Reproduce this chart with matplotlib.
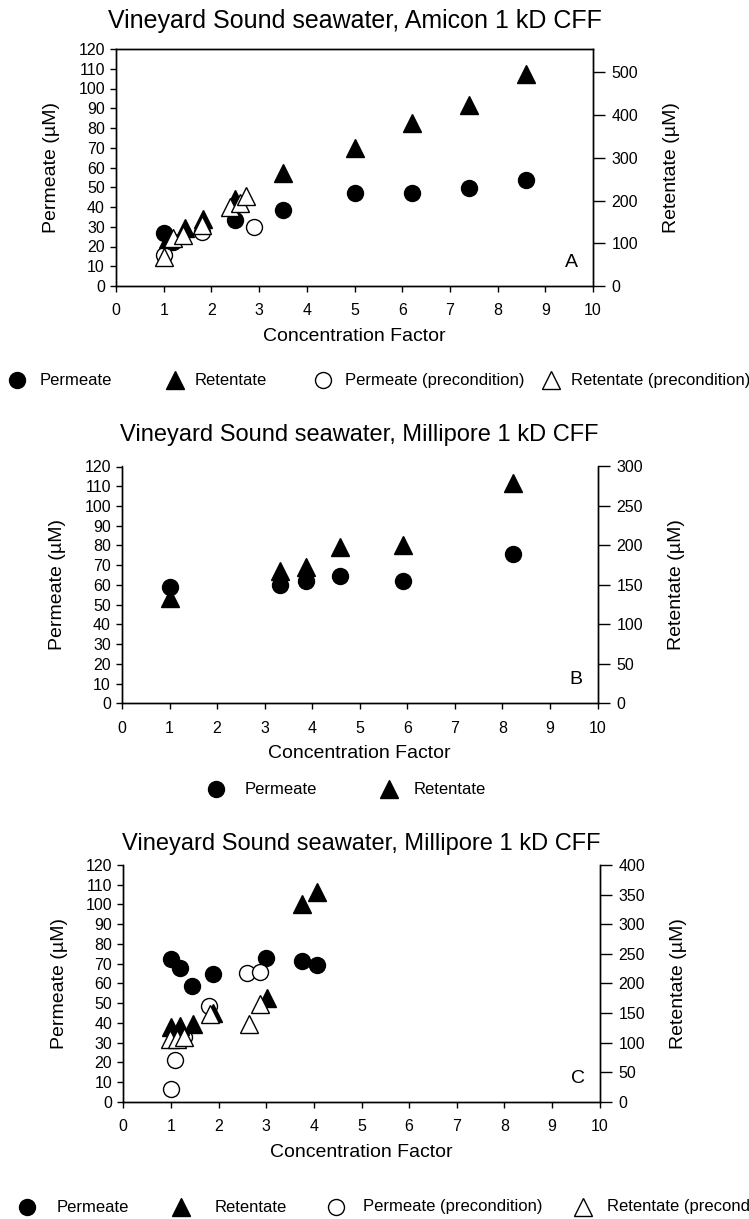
import numpy as np
import matplotlib
matplotlib.use("Agg")
import matplotlib.pyplot as plt
from matplotlib.lines import Line2D

plt.rcParams['font.family'] = ['Liberation Sans', 'DejaVu Sans']

# ---- Panel A: Amicon 1 kD CFF ----
a_perm_x = [1.0, 1.2, 2.5, 3.5, 5.0, 6.2, 7.4, 8.6]
a_perm_y = [26.7, 22.5, 33.5, 38.5, 47.0, 47.3, 49.5, 53.7]
a_ret_x = [1.1, 1.45, 1.82, 2.5, 3.5, 5.0, 6.2, 7.4, 8.6]
a_ret_y = [111, 135, 156, 203, 264, 323, 381, 423, 496]
a_perm_pre_x = [1.0, 1.15, 1.8, 2.89]
a_perm_pre_y = [15.7, 23.0, 27.5, 30.1]
a_ret_pre_x = [1.0, 1.2, 1.4, 1.8, 2.39, 2.6, 2.72]
a_ret_pre_y = [69, 112, 119, 143, 186, 194, 211]

# ---- Panel B: Millipore 1 kD CFF ----
b_perm_x = [1.0, 3.33, 3.87, 4.58, 5.92, 8.23]
b_perm_y = [58.7, 60.0, 62.1, 64.6, 62.1, 75.6]
b_ret_x = [1.0, 3.33, 3.87, 4.58, 5.92, 8.23]
b_ret_y = [134, 168, 173, 198, 201, 279]

# ---- Panel C: Millipore 1 kD CFF ----
c_perm_x = [1.0, 1.19, 1.45, 1.89, 3.0, 3.76, 4.07]
c_perm_y = [72.3, 67.7, 58.7, 64.7, 72.8, 71.1, 69.4]
c_ret_x = [1.0, 1.19, 1.46, 1.89, 3.01, 3.76, 4.07]
c_ret_y = [127, 128, 131, 150, 175, 334, 354]
c_perm_pre_x = [1.0, 1.09, 1.27, 1.8, 2.6, 2.87]
c_perm_pre_y = [6.3, 21.2, 32.7, 48.7, 65.2, 65.8]
c_ret_pre_x = [0.98, 1.12, 1.27, 1.82, 2.64, 2.87]
c_ret_pre_y = [106, 106, 109, 148, 131, 165]

title_a = "Vineyard Sound seawater, Amicon 1 kD CFF"
title_bc = "Vineyard Sound seawater, Millipore 1 kD CFF"

W, H = 749, 1219
fig = plt.figure(figsize=(W / 100, H / 100), dpi=100)


def px_axes(x0, x1, y0, y1):
    return fig.add_axes([x0 / W, 1 - y1 / H, (x1 - x0) / W, (y1 - y0) / H])


CS = 11.5   # circle marker size
TS = 12.5   # triangle marker size


def panel(ax, right_max, right_step, letter, title, series,
          title_size=17, title_pad=14, top=True):
    ax2 = ax.twinx()
    for (xs, ys, marker, filled, side) in series:
        tgt = ax if side == 'L' else ax2
        ms = CS if marker == 'o' else TS
        tgt.plot(xs, ys, linestyle='none', marker=marker, markersize=ms,
                 markerfacecolor='black' if filled else 'white',
                 markeredgecolor='black', markeredgewidth=1.0, zorder=3,
                 clip_on=False)
    ax.set_xlim(0, 10)
    ax.set_ylim(0, 120)
    ax2.set_ylim(0, right_max)
    ax.set_xticks(np.arange(0, 11, 1))
    ax.set_yticks(np.arange(0, 121, 10))
    ax2.set_yticks(np.arange(0, right_max + 1, right_step))
    for a in (ax, ax2):
        a.tick_params(direction='out', length=4.5, width=1, labelsize=11.5,
                      pad=3.5, colors='black')
        for s in a.spines.values():
            s.set_linewidth(1.0)
        a.spines['top'].set_visible(top)
    ax2.tick_params(axis='y', length=8.5, pad=5)
    ax.tick_params(axis='x', pad=8)
    ax.set_xlabel("Concentration Factor", fontsize=14, labelpad=7)
    ax.set_ylabel("Permeate (\u00b5M)", fontsize=14, labelpad=13)
    ax2.set_ylabel("Retentate (\u00b5M)", fontsize=14, labelpad=18)
    ax.text(0.955, 0.1, letter, transform=ax.transAxes, fontsize=14,
            ha='center', va='center')
    ax.set_title(title, fontsize=title_size, pad=title_pad)
    ax2.set_zorder(ax.get_zorder() + 1)
    return ax2


axA = px_axes(116, 593, 49, 286)
panel(axA, 555, 100, "A", title_a, [
    (a_perm_x, a_perm_y, 'o', True, 'L'),
    (a_ret_x, a_ret_y, '^', True, 'R'),
    (a_perm_pre_x, a_perm_pre_y, 'o', False, 'L'),
    (a_ret_pre_x, a_ret_pre_y, '^', False, 'R'),
], title_size=18, title_pad=15)

axB = px_axes(122, 597.5, 466.5, 703.3)
panel(axB, 300, 50, "B", title_bc, [
    (b_perm_x, b_perm_y, 'o', True, 'L'),
    (b_ret_x, b_ret_y, '^', True, 'R'),
], title_pad=18.5, top=False)

axC = px_axes(123.3, 599.7, 865, 1101.7)
panel(axC, 400, 50, "C", title_bc, [
    (c_perm_x, c_perm_y, 'o', True, 'L'),
    (c_ret_x, c_ret_y, '^', True, 'R'),
    (c_perm_pre_x, c_perm_pre_y, 'o', False, 'L'),
    (c_ret_pre_x, c_ret_pre_y, '^', False, 'R'),
], title_pad=10.5, top=False)


def legend_row(y, entries):
    for mx, marker, filled, tx, label in entries:
        ms = CS if marker == 'o' else TS
        fig.add_artist(Line2D([mx / W], [1 - y / H], transform=fig.transFigure,
                              linestyle='none', marker=marker, markersize=ms,
                              markerfacecolor='black' if filled else 'white',
                              markeredgecolor='black', markeredgewidth=1.0))
        fig.text(tx / W, 1 - y / H, label, fontsize=12, ha='left',
                 va='center')


legend_row(380, [
    (17, 'o', True, 40, "Permeate"),
    (175, '^', True, 195, "Retentate"),
    (323, 'o', False, 345, "Permeate (precondition)"),
    (551, '^', False, 571, "Retentate (precondition)"),
])
legend_row(789, [
    (216, 'o', True, 245, "Permeate"),
    (389, '^', True, 414, "Retentate"),
])
legend_row(1207, [
    (27, 'o', True, 57, "Permeate"),
    (181, '^', True, 215, "Retentate"),
    (336, 'o', False, 363, "Permeate (precondition)"),
    (583, '^', False, 607, "Retentate (precondition)"),
])

fig.savefig("out.png", dpi=100)
